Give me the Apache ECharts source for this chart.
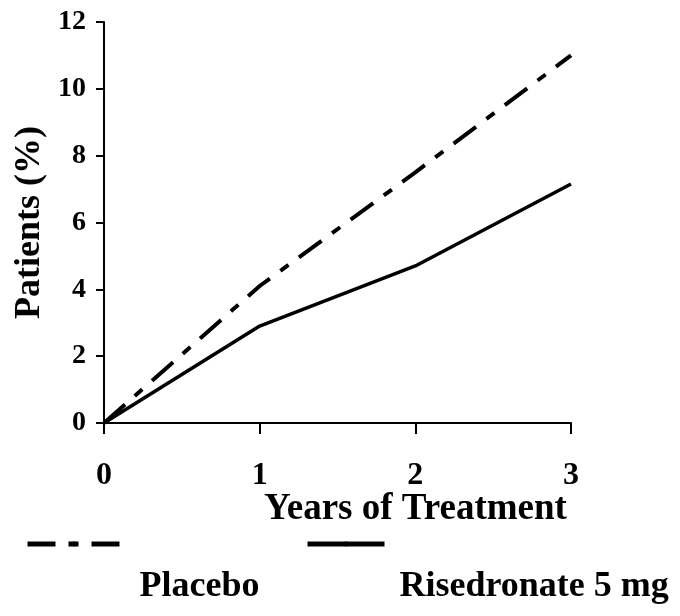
<!DOCTYPE html>
<html>
<head>
<meta charset="utf-8">
<script src="https://cdn.jsdelivr.net/npm/echarts@6/dist/echarts.min.js"></script>
<style>
  html, body { margin: 0; padding: 0; background: #fff; }
  #main { width: 680px; height: 616px; }
</style>
</head>
<body>
<div id="main"></div>
<script>
// data
let years = [0, 1, 2, 3];
let placebo = [0, 4.1, 7.5, 11.0];
let risedronate = [0, 2.9, 4.7, 7.15];
let yTicks = [0, 2, 4, 6, 8, 10, 12];

let font = "'Liberation Serif', 'Times New Roman', serif";
let dashDot = [28, 13, 10, 13];

function pairs(xs, ys) {
    return xs.map(function (x, i) { return [x, ys[i]]; });
}

// legend text sits under and to the right of its line sample
function legendText(gap) {
    return {
        fontFamily: font, fontWeight: 'bold', fontSize: 36, color: '#000',
        rich: {
            a: { fontFamily: font, fontWeight: 'bold', fontSize: 36, color: '#000', lineHeight: 86, padding: [0, 0, 0, gap] }
        }
    };
}

let myChart = echarts.init(document.getElementById('main'));

myChart.setOption({
    animation: false,
    backgroundColor: '#fff',
    textStyle: { fontFamily: font, fontWeight: 'bold', color: '#000' },
    grid: { left: 104, right: 109, top: 22, bottom: 193, outerBoundsMode: 'none', containLabel: false },
    legend: [
        {
            data: ['Placebo'],
            left: 25,
            top: 483,
            padding: 0,
            itemWidth: 93,
            itemHeight: 6,
            lineStyle: { width: 5, type: dashDot, color: '#000' },
            formatter: function (name) { return '{a|}\n{a|' + name + '}'; },
            textStyle: legendText(14)
        },
        {
            data: ['Risedronate 5 mg'],
            left: 305,
            top: 483,
            padding: 0,
            itemWidth: 77,
            itemHeight: 6,
            lineStyle: { width: 5, color: '#000' },
            formatter: function (name) { return '{a|}\n{a|' + name + '}'; },
            textStyle: legendText(10)
        }
    ],
    xAxis: {
        type: 'value',
        min: 0,
        max: 3,
        interval: 1,
        name: 'Years of Treatment',
        nameLocation: 'middle',
        nameGap: 68,
        nameMoveOverlap: false,
        nameTextStyle: {
            fontFamily: font, fontWeight: 'bold', fontSize: 37, color: '#000',
            padding: [0, 0, 0, 156]
        },
        axisLine: { show: true, lineStyle: { color: '#000', width: 2 } },
        axisTick: { show: true, length: 11, lineStyle: { color: '#000', width: 2 } },
        axisLabel: { fontFamily: font, fontWeight: 'bold', fontSize: 32, color: '#000', margin: 37 },
        splitLine: { show: false }
    },
    yAxis: {
        type: 'value',
        min: yTicks[0],
        max: yTicks[yTicks.length - 1],
        interval: 2,
        name: 'Patients (%)',
        nameLocation: 'middle',
        nameGap: 56,
        nameMoveOverlap: false,
        nameTextStyle: { fontFamily: font, fontWeight: 'bold', fontSize: 36, color: '#000' },
        axisLine: { show: true, lineStyle: { color: '#000', width: 2 } },
        axisTick: { show: true, length: 8, lineStyle: { color: '#000', width: 2 } },
        axisLabel: { fontFamily: font, fontWeight: 'bold', fontSize: 28, color: '#000', margin: 18 },
        splitLine: { show: false }
    },
    series: [
        {
            name: 'Placebo',
            type: 'line',
            data: pairs(years, placebo),
            symbol: 'none',
            lineStyle: { color: '#000', width: 4, type: dashDot },
            itemStyle: { color: '#000' }
        },
        {
            name: 'Risedronate 5 mg',
            type: 'line',
            data: pairs(years, risedronate),
            symbol: 'none',
            lineStyle: { color: '#000', width: 3.5 },
            itemStyle: { color: '#000' }
        }
    ]
});
</script>
</body>
</html>
